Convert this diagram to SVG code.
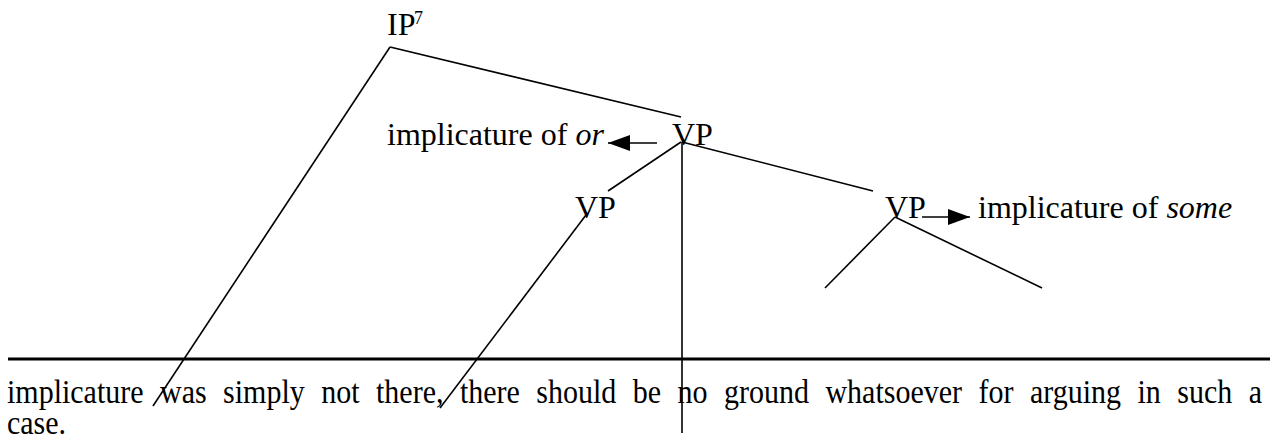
<svg xmlns="http://www.w3.org/2000/svg" width="1277" height="440" viewBox="0 0 1277 440">
<style>
.lbl{font-family:"Liberation Serif","Times New Roman",serif;font-size:32px;fill:#000}
.body{font-family:"Liberation Serif","Times New Roman",serif;font-size:34px;fill:#000}
.e{stroke:#000;stroke-width:1.6;fill:none}
</style>
<defs>
<marker id="ah" viewBox="0 0 22 16" refX="22" refY="8" markerWidth="22" markerHeight="16" markerUnits="userSpaceOnUse" orient="auto">
<path d="M0,0 L22,8 L0,16 Z" fill="#000"/>
</marker>
</defs>
<rect width="1277" height="440" fill="#fff"/>
<g id="edges">
<line class="e" x1="390" y1="47" x2="681" y2="117"/>
<line class="e" x1="390" y1="47" x2="153" y2="406"/>
<line class="e" x1="681" y1="142" x2="608" y2="191"/>
<line class="e" x1="682" y1="142" x2="682" y2="433"/>
<line class="e" x1="682" y1="142" x2="873" y2="191"/>
<line class="e" x1="586" y1="215" x2="440" y2="408"/>
<line class="e" x1="895" y1="217" x2="825" y2="288"/>
<line class="e" x1="895" y1="217" x2="1042" y2="288"/>
<line class="e" x1="657" y1="143" x2="608" y2="143" marker-end="url(#ah)"/>
<line class="e" x1="922" y1="217" x2="970" y2="217" marker-end="url(#ah)"/>
</g>
<g id="node-ip">
<text class="lbl" x="387" y="35">IP</text>
<text class="lbl" x="414" y="24" style="font-size:18px">7</text>
</g>
<g id="node-vp-top">
<text class="lbl" x="672" y="145">VP</text>
</g>
<g id="label-or">
<text class="lbl" x="387" y="145">implicature of <tspan font-style="italic">or</tspan></text>
</g>
<g id="node-vp-left">
<text class="lbl" x="575" y="218">VP</text>
</g>
<g id="node-vp-right">
<text class="lbl" x="885" y="218">VP</text>
</g>
<g id="label-some">
<text class="lbl" x="978" y="218">implicature of <tspan font-style="italic">some</tspan></text>
</g>
<g id="page">
<line x1="8" y1="359" x2="1270" y2="359" stroke="#000" stroke-width="3"/>
<text class="body" transform="translate(7,403) scale(0.882,1)" word-spacing="10.2">implicature was simply not there, there should be no ground whatsoever for arguing in such a</text>
<text class="body" transform="translate(7,434) scale(0.882,1)">case.</text>
</g>
</svg>
